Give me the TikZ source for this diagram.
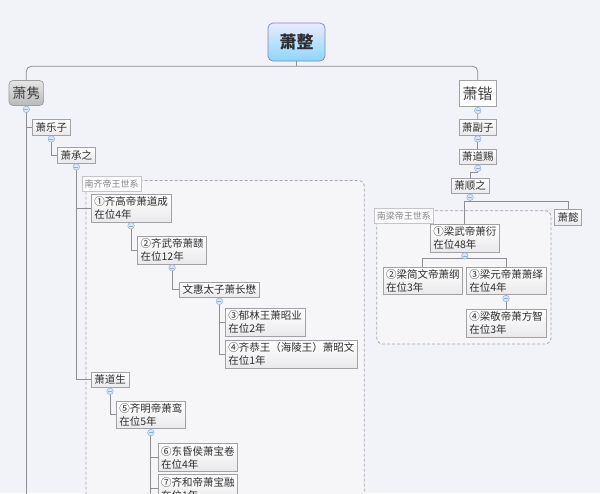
\documentclass[tikz,border=0pt]{standalone}
\usepackage{fontspec}
\setmainfont{Noto Sans CJK SC}
\usetikzlibrary{calc}
\definecolor{bgpaper}{HTML}{F2F3F8}
\definecolor{zonefill}{HTML}{F6F6F9}
\definecolor{linkgray}{HTML}{8E8E92}
\definecolor{boxgray}{HTML}{A2A2A6}
\definecolor{boxshade}{HTML}{E9E9EC}
\definecolor{inkdark}{HTML}{2E2E2E}
\definecolor{zonegray}{HTML}{A6A6AA}
\definecolor{foldline}{HTML}{8EAEDB}
\definecolor{foldfill}{HTML}{DCE7F6}

\begin{document}
\begin{tikzpicture}[x=1pt,y=-1pt,
  link/.style={draw=linkgray, line width=0.8pt},
  member/.style={draw=boxgray, line width=0.6pt, top color=white, bottom color=boxshade,
    text=inkdark, font=\fontsize{10.5}{13}\selectfont, align=left,
    inner xsep=3pt, inner ysep=2.5pt, minimum height=15.5pt, anchor=north west},
  rootbox/.style={draw=blue!40!gray!70, line width=0.7pt, rounded corners=5pt,
    top color=blue!8!white, bottom color=blue!35!cyan!45, text=inkdark,
    font=\fontsize{17}{20}\selectfont\bfseries, minimum width=57pt, minimum height=38pt},
  branchgray/.style={draw=gray!75, line width=0.7pt, rounded corners=4pt,
    top color=gray!20, bottom color=gray!55, text=black!75,
    font=\fontsize{14}{17}\selectfont, minimum width=34pt, minimum height=25pt},
  branchwhite/.style={draw=boxgray, line width=0.7pt, fill=white, text=black!75,
    font=\fontsize{15}{18}\selectfont, minimum width=37pt, minimum height=26pt},
  zonetag/.style={draw=gray!45, line width=0.6pt, fill=white!60!zonefill, text=gray!95,
    font=\fontsize{9}{11}\selectfont, inner xsep=2.5pt, inner ysep=0pt,
    minimum height=15pt, anchor=north west},
  zone/.style={draw=zonegray, fill=zonefill, line width=0.8pt, dash pattern=on 3pt off 2pt,
    rounded corners=6pt},
  fold/.style={circle, draw=foldline, fill=foldfill, line width=0.5pt, minimum size=6.5pt,
    inner sep=0pt, anchor=north,
    path picture={\draw[foldline, line width=0.6pt]
      ([xshift=-2pt]path picture bounding box.center) --
      ([xshift=2pt]path picture bounding box.center);}}]

  \useasboundingbox (0,0) rectangle (600,493);
  \clip (0,0) rectangle (600,493);
  \fill[bgpaper] (0,0) rectangle (600,493);

  % dynasty zones (dashed)
  \draw[zone] (86,180.5) rectangle (364.3,560);
  \draw[zone] (376.7,210.7) rectangle (551,344);

  % root and the two branches
  \node[rootbox] (root) at (296.5,42) {萧整};
  \node[branchgray] (jun) at (26.3,93) {萧隽};
  \node[branchwhite] (kai) at (477.7,93.7) {萧锴};

  % Southern Qi line
  \node[member] (lezi) at (32.3,119.3) {萧乐子};
  \node[member] (chengzhi) at (57.3,147.3) {萧承之};
  \node[zonetag] (qitag) at (81.7,176) {南齐帝王世系};
  \node[member] (qi1) at (91,194) {①齐高帝萧道成\\在位4年};
  \node[member] (qi2) at (137.3,236) {②齐武帝萧赜\\在位12年};
  \node[member] (wenhui) at (179.3,281.7) {文惠太子萧长懋};
  \node[member] (qi3) at (225,308.3) {③郁林王萧昭业\\在位2年};
  \node[member] (qi4) at (225,340) {④齐恭王（海陵王）萧昭文\\在位1年};
  \node[member] (daosheng) at (91,371.7) {萧道生};
  \node[member] (qi5) at (116,400.7) {⑤齐明帝萧鸾\\在位5年};
  \node[member] (qi6) at (157.7,443.3) {⑥东昏侯萧宝卷\\在位4年};
  \node[member] (qi7) at (157.7,474.3) {⑦齐和帝萧宝融\\在位1年};

  % Southern Liang line
  \node[member] (fuzi) at (458.7,119.3) {萧副子};
  \node[member] (daoci) at (458.7,148.7) {萧道赐};
  \node[member] (shunzhi) at (451,177.7) {萧顺之};
  \node[member] (yi) at (554.3,209.3) {萧懿};
  \node[zonetag] (liangtag) at (374,208.3) {南梁帝王世系};
  \node[member] (liang1) at (430,224) {①梁武帝萧衍\\在位48年};
  \node[member] (liang2) at (382.7,266.7) {②梁简文帝萧纲\\在位3年};
  \node[member] (liang3) at (466,266.7) {③梁元帝萧萧绎\\在位4年};
  \node[member] (liang4) at (466,309.3) {④梁敬帝萧方智\\在位3年};

  % connectors
  \coordinate (top) at (296.5,66.3);
  \coordinate (bottom) at (0,500);
  \draw[link] (root.south) -- (top);
  \draw[link, rounded corners=5pt] (jun.north) |- (top) -| (kai.north);

  \draw[link] (jun.south) -- (jun.south |- bottom);
  \draw[link] (jun.south) |- (lezi.west);
  \draw[link] (lezi.south) |- (chengzhi.west);
  \draw[link] (chengzhi.south) |- (qi1.west);
  \draw[link] (chengzhi.south) |- (daosheng.west);
  \draw[link] (qi1.south) |- (qi2.west);
  \draw[link] (qi2.south) |- (wenhui.west);
  \draw[link] (wenhui.south) |- (qi3.west);
  \draw[link] (wenhui.south) |- (qi4.west);
  \draw[link] (daosheng.south) |- (qi5.west);
  \draw[link] (qi5.south) |- (qi6.west);
  \draw[link] (qi5.south) |- (qi7.west);
  \draw[link] (qi5.south) -- (qi5.south |- bottom);

  \coordinate (shunjoin) at ($(daoci.south)+(0,7.5)$);
  \coordinate (liangjoin) at ($(shunzhi.south)+(0,7.5)$);
  \coordinate (wujoin) at ($(liang1.south)+(0,6.5)$);
  \draw[link] (kai.south) -- (fuzi.north);
  \draw[link] (fuzi.south) -- (daoci.north);
  \draw[link] (daoci.south) -- (shunjoin) -| (shunzhi.north);
  \draw[link] (shunzhi.south) -- (liangjoin);
  \draw[link] (liang1.north) |- (liangjoin) -| (yi.north);
  \draw[link] (liang1.south) -- (wujoin);
  \draw[link] (liang2.north) |- (wujoin) -| (liang3.north);
  \draw[link] (liang3.south) -- (liang4.north);

  % collapse markers
  \foreach \n in {jun,kai,lezi,chengzhi,qi1,qi2,wenhui,daosheng,qi5,
                  fuzi,daoci,shunzhi,liang1,liang3}
    \node[fold] (fold-\n) at (\n.south) {};
\end{tikzpicture}
\end{document}
